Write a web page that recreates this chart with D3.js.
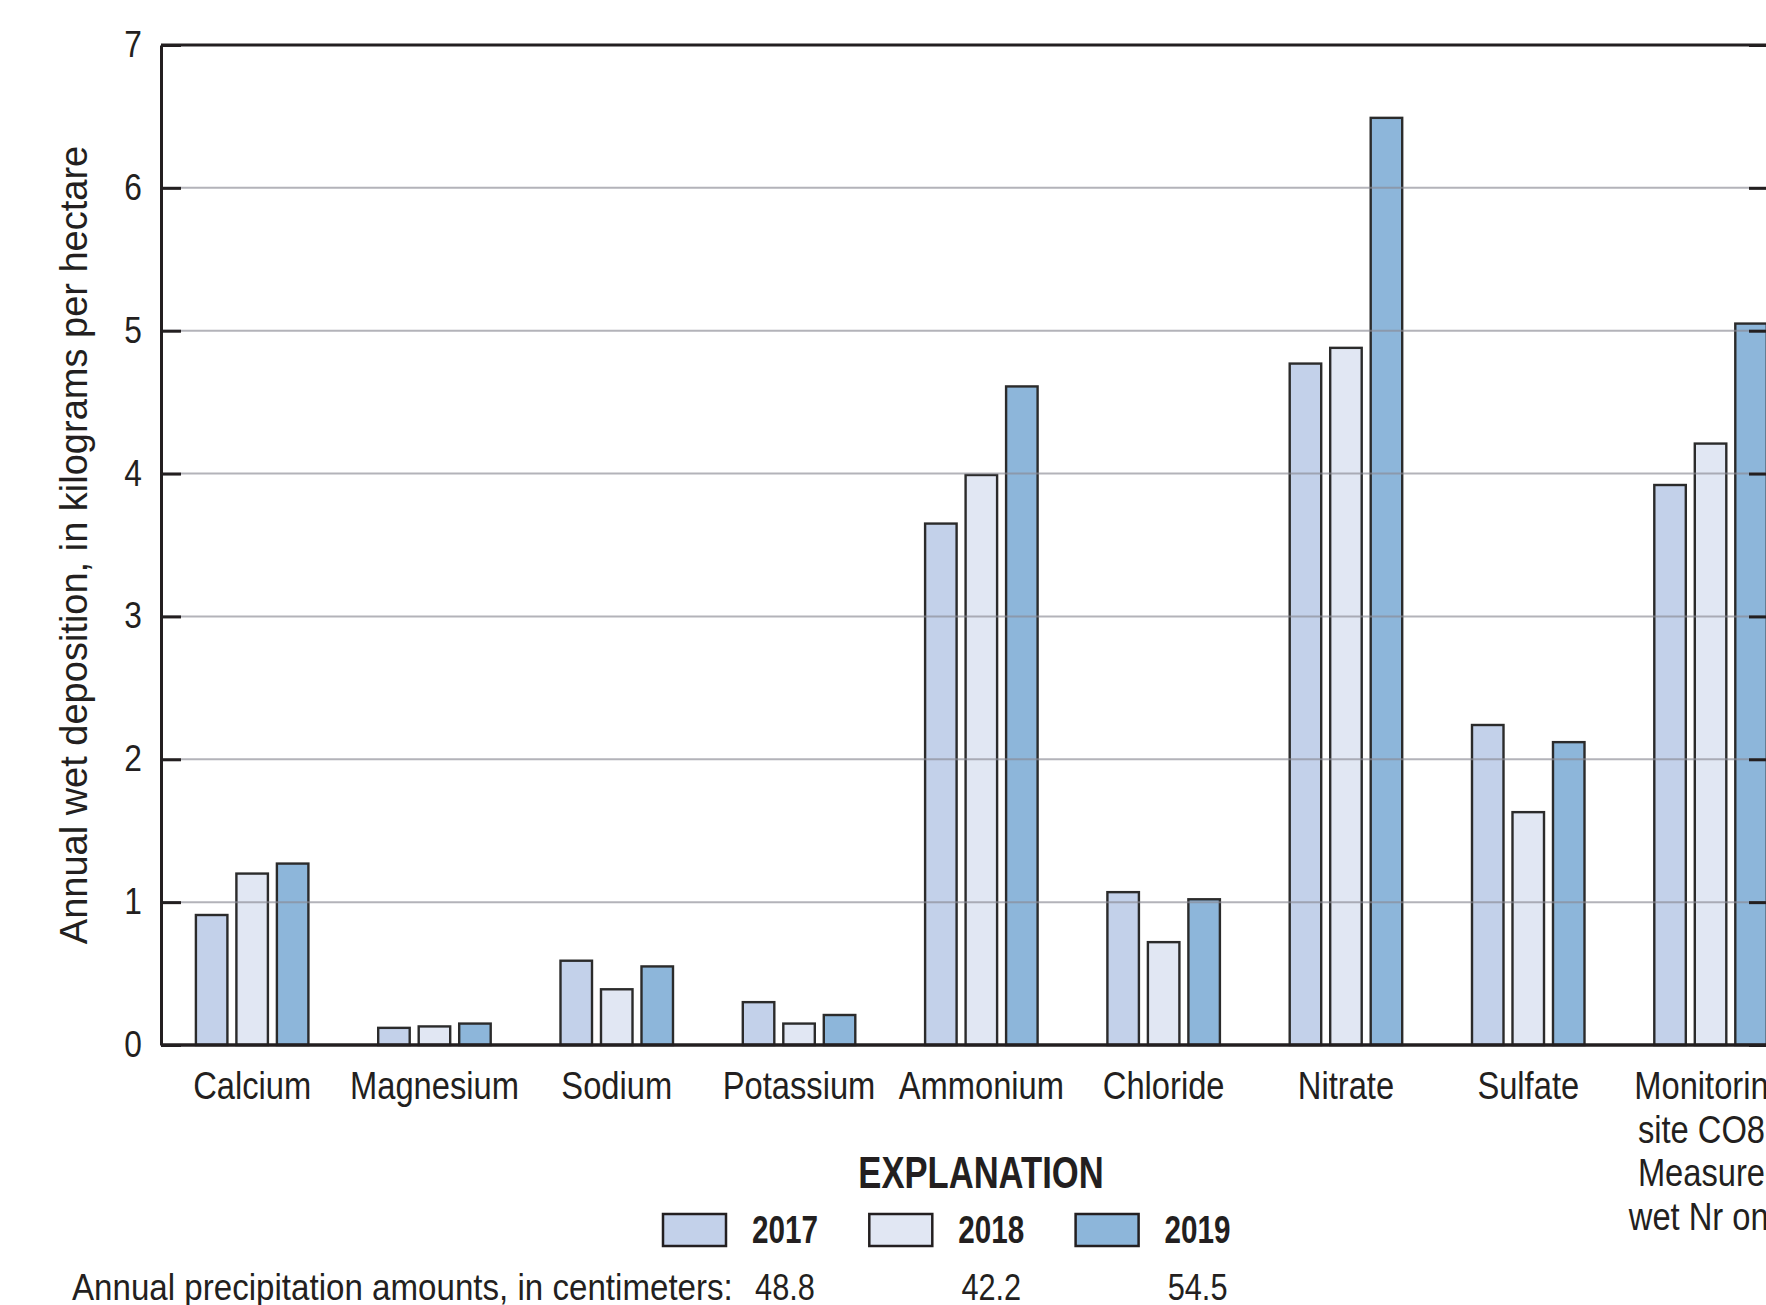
<!DOCTYPE html>
<html>
<head>
<meta charset="utf-8">
<script src="https://cdn.jsdelivr.net/npm/d3@7"></script>
<style>
  body { margin: 0; background: #fff; }
  text { font-family: "Liberation Sans", Arial, sans-serif; fill: #231f20; }
</style>
</head>
<body>
<div class="chart"></div>
<script>
var categories = ["Calcium", "Magnesium", "Sodium", "Potassium", "Ammonium",
                  "Chloride", "Nitrate", "Sulfate", "Monitoring\nsite CO86\nMeasured\nwet Nr only"];
var years = ["2017", "2018", "2019"];
var dep2017 = [0.91, 0.12, 0.59, 0.30, 3.65, 1.07, 4.77, 2.24, 3.92];
var dep2018 = [1.20, 0.13, 0.39, 0.15, 3.99, 0.72, 4.88, 1.63, 4.21];
var dep2019 = [1.27, 0.15, 0.55, 0.21, 4.61, 1.02, 6.49, 2.12, 5.05];
var precip = ["48.8", "42.2", "54.5"];
var yTicks = [0, 1, 2, 3, 4, 5, 6, 7];

var W = 1766, H = 1305;
var plotL = 161, plotR = 1769, plotT = 45, plotB = 1045;
var step = 182.3;
var colors = ["#c3d1ea", "#e1e7f3", "#8db6da"];
var series = [dep2017, dep2018, dep2019];

// squeeze Liberation Sans to look like a condensed face
function condense(sel, k) {
  sel.each(function() {
    var len = this.getComputedTextLength();
    if (len > 0) {
      d3.select(this).attr("textLength", len * k).attr("lengthAdjust", "spacingAndGlyphs");
    }
  });
}

// long table for the bars
var rows = [];
categories.forEach(function(c, i) {
  years.forEach(function(yr, j) {
    rows.push({ cat: c, year: yr, value: series[j][i] });
  });
});

/**
 * Scales
 */
var xScale = d3.scaleBand()
               .domain(categories)
               .range([plotL, plotL + step * categories.length]);

var xInner = d3.scaleBand()
               .domain(years)
               .range([0, 112.5])
               .paddingInner(0.222);

var yScale = d3.scaleLinear()
               .domain([0, 7])
               .range([plotB, plotT]);

var color = d3.scaleOrdinal().domain(years).range(colors);

var svg = d3.select(".chart")
            .append("svg")
            .attr("width", W)
            .attr("height", H);

svg.append("rect").attr("width", W).attr("height", H).attr("fill", "#fff");

/**
 * Bars
 */
svg.append("g")
   .selectAll("rect")
   .data(rows)
   .enter()
   .append("rect")
   .attr("x", function(d) {
     return xScale(d.cat) + xScale.bandwidth() / 2 - 56.25 + xInner(d.year);
   })
   .attr("y", function(d) { return yScale(d.value); })
   .attr("width", xInner.bandwidth())
   .attr("height", function(d) { return plotB - yScale(d.value); })
   .attr("fill", function(d) { return color(d.year); })
   .attr("stroke", "#2b2b2b")
   .attr("stroke-width", 2.4);

/**
 * Gridlines (drawn over the bars, as in the original)
 */
svg.append("g")
   .selectAll("line")
   .data(yTicks.filter(function(t) { return t > 0 && t < 7; }))
   .enter()
   .append("line")
   .attr("x1", plotL)
   .attr("x2", plotR)
   .attr("y1", function(d) { return yScale(d); })
   .attr("y2", function(d) { return yScale(d); })
   .attr("stroke", "#8a8a94")
   .attr("stroke-opacity", 0.65)
   .attr("stroke-width", 2);

/**
 * Axes
 */
var yAxis = d3.axisLeft(yScale)
              .tickValues(yTicks)
              .tickSize(-20)
              .tickSizeOuter(0)
              .tickPadding(19)
              .tickFormat(d3.format("d"));

var gy = svg.append("g")
            .attr("transform", "translate(" + plotL + ",0)")
            .call(yAxis);
gy.selectAll("text").style("font-size", "36px").style("font-family", null);
gy.selectAll("line").attr("stroke", "#231f20").attr("stroke-width", 3);
gy.select(".domain").attr("stroke", "#231f20").attr("stroke-width", 3);
condense(gy.selectAll("text"), 0.88);

var yAxisR = d3.axisRight(yScale)
               .tickValues(yTicks)
               .tickSize(-20)
               .tickSizeOuter(0)
               .tickFormat("");

var gr = svg.append("g")
            .attr("transform", "translate(" + plotR + ",0)")
            .call(yAxisR);
gr.selectAll("line").attr("stroke", "#231f20").attr("stroke-width", 3);
gr.select(".domain").attr("stroke", "#231f20").attr("stroke-width", 3);

// top and bottom frame
svg.append("line").attr("x1", plotL).attr("x2", plotR)
   .attr("y1", plotT).attr("y2", plotT)
   .attr("stroke", "#231f20").attr("stroke-width", 3);
svg.append("line").attr("x1", plotL).attr("x2", plotR)
   .attr("y1", plotB).attr("y2", plotB)
   .attr("stroke", "#231f20").attr("stroke-width", 3.5);

/**
 * Category labels
 */
var labels = svg.append("g")
                .selectAll("text")
                .data(categories)
                .enter()
                .append("text")
                .attr("text-anchor", "middle")
                .style("font-size", "38px")
                .attr("transform", function(d) {
                  return "translate(" + (xScale(d) + xScale.bandwidth() / 2) + ",1099)";
                });

labels.selectAll("tspan")
      .data(function(d) { return d.split("\n"); })
      .enter()
      .append("tspan")
      .attr("x", 0)
      .attr("y", function(d, i) { return i * 43.5; })
      .text(function(d) { return d; });
condense(labels.selectAll("tspan"), 0.86);

/**
 * Y axis title
 */
var ytitle = svg.append("text")
   .attr("transform", "translate(87," + ((plotT + plotB) / 2) + ") rotate(-90)")
   .attr("text-anchor", "middle")
   .style("font-size", "38px")
   .text("Annual wet deposition, in kilograms per hectare");
condense(ytitle, 1.0);

/**
 * Legend
 */
var expl = svg.append("text")
   .attr("x", 981)
   .attr("y", 1188)
   .attr("text-anchor", "middle")
   .style("font-size", "44px")
   .style("font-weight", "bold")
   .text("EXPLANATION");
condense(expl, 0.786);

var legend = svg.append("g")
                .selectAll("g")
                .data(years)
                .enter()
                .append("g")
                .attr("transform", function(d, i) {
                  return "translate(" + (663 + i * 206.3) + ",0)";
                });

legend.append("rect")
      .attr("x", 0)
      .attr("y", 1214)
      .attr("width", 63)
      .attr("height", 32)
      .attr("fill", function(d) { return color(d); })
      .attr("stroke", "#231f20")
      .attr("stroke-width", 2.5);

var yearText = legend.append("text")
      .attr("x", 122)
      .attr("y", 1243)
      .attr("text-anchor", "middle")
      .style("font-size", "38px")
      .style("font-weight", "bold")
      .text(function(d) { return d; });
condense(yearText, 0.78);

var precipText = legend.append("text")
      .attr("x", 122)
      .attr("y", 1300)
      .attr("text-anchor", "middle")
      .style("font-size", "37px")
      .text(function(d, i) { return precip[i]; });
condense(precipText, 0.83);

var precipLabel = svg.append("text")
   .attr("x", 72)
   .attr("y", 1300)
   .style("font-size", "37px")
   .text("Annual precipitation amounts, in centimeters:");
condense(precipLabel, 0.895);
</script>
</body>
</html>
